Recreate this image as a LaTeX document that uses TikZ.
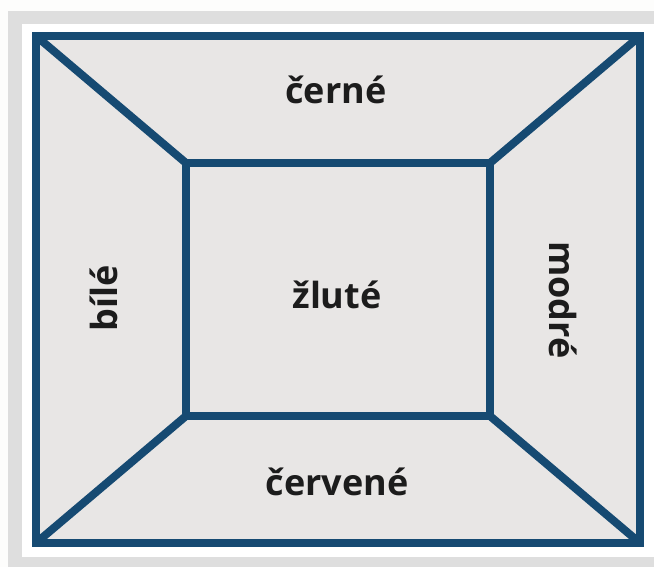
\documentclass[tikz,border=0pt]{standalone}
\usepackage{fontspec}
\setmainfont{Open Sans}
\definecolor{framegray}{HTML}{DEDEDE}
\definecolor{pagewhite}{HTML}{FDFDFC}
\definecolor{panelfill}{HTML}{E8E6E5}
\definecolor{edgeblue}{HTML}{164A72}
\definecolor{labelink}{HTML}{1C1C1C}
\tikzset{
  edge/.style={draw=edgeblue, line width=6pt, line join=miter},
  wall/.style={font=\bfseries\fontsize{27}{30}\selectfont, text=labelink, inner sep=0pt}
}
\begin{document}
\begin{tikzpicture}[x=0.75pt, y=-0.75pt]
  % page and grey mount
  \useasboundingbox (0,0) rectangle (654,567);
  \fill[pagewhite] (0,0) rectangle (654,567);
  \fill[framegray] (8,11) rectangle (660,570);
  \fill[white] (22,24) rectangle (660,557);

  % room corners: outer frame and back wall
  \coordinate (o1) at (36,36);
  \coordinate (o2) at (640,36);
  \coordinate (o3) at (640,543);
  \coordinate (o4) at (36,543);
  \coordinate (i1) at (186,163);
  \coordinate (i2) at (490,163);
  \coordinate (i3) at (490,416);
  \coordinate (i4) at (186,416);

  \fill[panelfill] (o1) rectangle (o3);
  \draw[edge] (o1) -- (i1);
  \draw[edge] (o2) -- (i2);
  \draw[edge] (o3) -- (i3);
  \draw[edge] (o4) -- (i4);
  \draw[edge] (i1) -- (i2) -- (i3) -- (i4) -- cycle;
  \draw[edge] (o1) -- (o2) -- (o3) -- (o4) -- cycle;

  % wall labels
  \node[wall] (top)    at (336,90)  {černé};
  \node[wall] (back)   at (337,295) {žluté};
  \node[wall] (bottom) at (337,482) {červené};
  \node[wall, rotate=90]  (left)  at (104,298) {bílé};
  \node[wall, rotate=-90] (right) at (563,300) {modré};
\end{tikzpicture}
\end{document}
